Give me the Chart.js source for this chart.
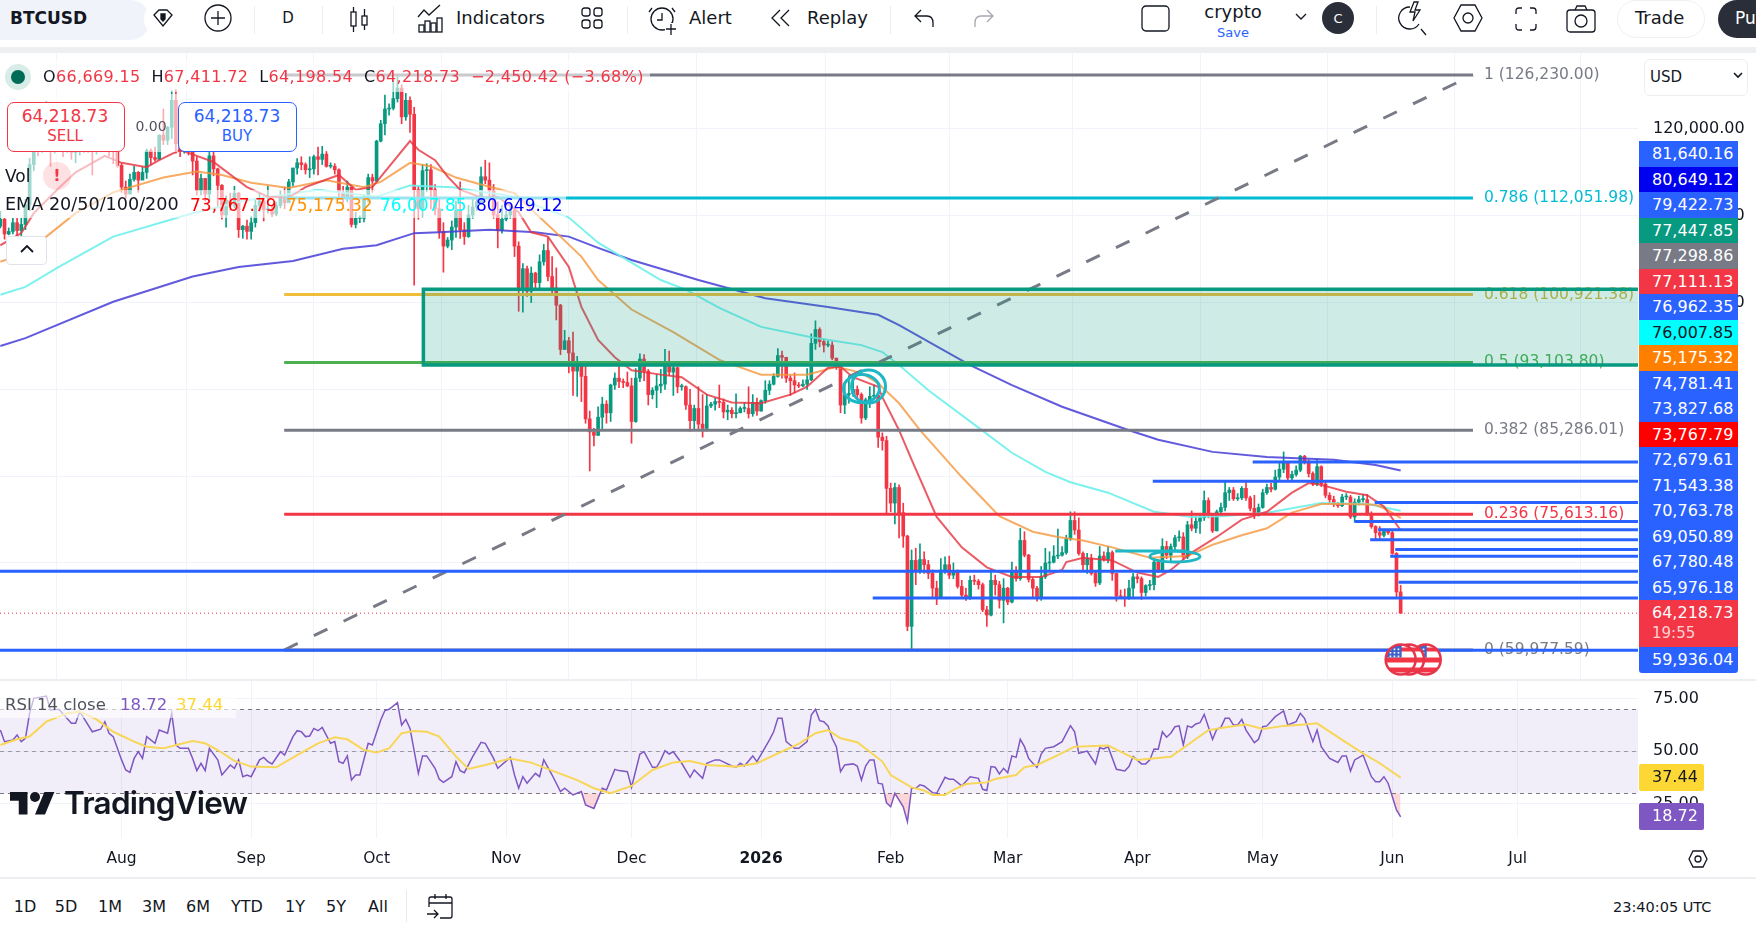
<!DOCTYPE html>
<html>
<head>
<meta charset="utf-8">
<title>BTCUSD</title>
<script src="https://cdn.jsdelivr.net/npm/chart.js@4"></script>
<style>
html,body{margin:0;padding:0;background:#fff;width:1756px;height:934px;overflow:hidden;font-family:"DejaVu Sans",sans-serif;color:#131722}
canvas{position:absolute;left:0}
.t{position:absolute;white-space:nowrap;line-height:1;transform:translateY(-50%)}
.c{transform:translate(-50%,-50%)}
.r{position:absolute}
.tag{position:absolute;left:1639px;width:99px;height:25.5px;line-height:25.5px;color:#fff;font-size:16px;text-align:left;padding-left:13px;box-sizing:border-box;font-weight:500}
svg{position:absolute;overflow:visible;fill:none;stroke:#131722;stroke-width:1.3}
</style>
</head>
<body>
<canvas id="priceCanvas" width="1756" height="630" style="top:50px"></canvas>
<canvas id="rsiCanvas" width="1756" height="197" style="top:680px"></canvas>
<div id="ui"></div>
<script>
// Daily BTCUSD candles, first value is day 2 counted from 1 Jul 2025
const firstDay = 2;
const closes = [
109600,107900,108200,109200,108300,109000,111300,115900,117500,117400,
119100,119800,117700,118700,119200,117900,117900,117300,117400,120000,
118700,118300,117600,117900,119400,118000,117900,117800,115800,113300,
112500,114200,115000,114100,115000,117500,116700,116500,119300,118700,
120200,123300,118300,117400,117500,117400,116300,112900,114300,112500,
116900,115400,113500,110100,111800,111200,112600,108400,108800,108200,
109200,111200,111700,110700,110700,110200,111200,112100,111500,113900,
115500,116100,115900,115300,115400,116800,116500,117100,115700,115700,
115300,112700,112000,113300,109000,109700,109700,112100,114400,114000,
118600,120600,122300,122400,123500,124700,121400,123300,121700,113000,
110800,115200,115300,113000,110800,108200,106500,107200,108700,110600,
108400,107600,110100,111000,111600,114500,114100,112900,110100,108300,
109600,110100,110600,106500,101600,103900,101300,103400,102300,104700,
106000,103000,101700,99700,94600,95600,94200,92100,92900,91500,
86600,85100,84700,86800,88300,87300,90500,91300,90900,90800,
90400,86300,91300,93500,92100,89400,89900,90400,90600,92700,
92000,92500,90300,90300,88200,86400,87800,86000,85500,88100,
88300,88600,88500,87400,87600,87200,87300,87800,87800,87200,
88500,87500,88700,89900,90600,91500,93900,93700,91300,91000,
90500,90400,90600,91100,95300,96900,95500,95100,95100,93600,
92600,88200,89400,89500,90000,89400,86700,88800,89200,89300,
84500,84100,78600,76900,78700,75800,73100,62700,70300,69200,
70400,69800,68800,67100,66100,69200,69800,68600,69100,67300,
66300,66000,68000,67900,67500,64600,64000,68000,67500,65700,
67100,65500,69000,68200,72600,70900,68100,67100,65900,68400,
70000,70100,70800,70900,71200,72800,74900,73800,71100,69800,
70500,68800,67700,70800,70400,71200,68800,66200,66100,65900,
67100,68400,68200,66600,67400,67500,70100,69100,71900,70900,
71900,72900,73000,70700,74400,74000,74800,75200,77200,75500,
73700,75900,76400,78100,78400,77400,77500,78600,77500,76300,
75500,76400,78100,78700,78500,79900,80800,81500,79800,80200,
80700,82300,81700,80300,79100,81100,79100,77800,77300,76800,
76600,77600,77600,75300,77000,77300,77300,75700,74200,73500,
73200,73800,73500,71100,66669.15,64218.73];
const highs = [
110500,109700,108600,109700,109700,109700,111900,116600,118900,118200,
119400,123200,120000,119200,120700,120900,118500,118900,119500,120200,
120100,119500,119500,118500,119800,119800,119200,118800,118100,116000,
114000,114800,115700,115100,115600,117700,117700,117900,119300,122300,
120300,124400,124500,119300,118000,118600,117600,116800,114800,114300,
117300,117400,115500,113600,112300,112600,113400,112700,108900,109500,
109900,112000,112600,112200,113400,111200,111600,112900,113300,114200,
115500,116600,116800,116100,116800,117000,117900,118000,117400,116100,
116000,115400,113400,114000,113300,110400,110000,112400,114800,114800,
118700,121000,123900,122900,125600,126230,125100,124100,123700,122500,
113400,115900,116000,115900,113600,111900,109200,107500,109400,111700,
113900,109200,111200,112000,111900,115600,116400,116100,113600,111600,
111200,110500,111100,110800,107000,104500,104200,104100,103500,105500,
106700,107500,105300,104000,99800,96800,96000,96600,93800,93200,
93000,87500,85500,88000,89100,88700,90600,91900,93000,91200,
92000,91300,92400,94100,94000,92300,90200,91700,92300,94600,
94400,92700,92600,90600,90400,90000,88200,90300,89400,89400,
88500,89000,90500,88900,88200,87900,89500,88000,88500,90300,
89400,89000,88800,91000,91000,91800,94700,94400,93600,91600,
91900,90800,91100,92400,96400,97900,97100,95800,95600,95500,
93600,92800,90700,91500,91000,90400,89600,89000,90300,90500,
89400,85000,84600,79200,79200,79000,76900,73200,71500,71700,
72200,71300,70300,69200,67900,70500,70700,70800,70000,69200,
68000,67100,68500,68600,68100,67700,65000,69200,68600,67900,
68200,67200,70100,69600,74000,73600,71000,68300,67300,69600,
71700,71300,72000,73900,71900,73200,75900,75900,75200,71300,
71100,71000,69000,71900,71300,71900,71400,68800,66900,67000,
68000,68800,68700,68400,67500,68000,70500,70400,72800,72500,
72200,73200,73700,73500,74800,76000,75400,75500,78300,77500,
75700,76100,76900,79300,78700,78700,78000,78800,79300,77700,
77800,76800,78500,79100,79200,80700,81500,82800,81600,80600,
81200,82400,82400,81900,80500,81900,81200,79300,78100,77700,
77000,77900,78000,77800,77400,77700,77900,77900,75900,74300,
74200,73900,73800,73800,71200,67411.72];
const lows = [
108600,107300,107800,107900,107500,107500,108400,110600,115200,116900,
117300,118900,115700,117200,117500,116800,117300,116500,116100,117000,
117300,117300,114700,117100,117800,117400,116900,116000,115600,112700,
112000,112600,114000,112700,114200,114300,115900,116300,116500,118200,
118200,118900,117200,116800,117200,117000,114700,112400,112400,111700,
111700,114600,110900,109600,108700,110600,110900,107500,107400,107300,
107300,108700,110500,109400,110300,109900,110000,110900,110800,111600,
113400,114800,115300,114800,114400,114800,114700,115900,115600,115500,
114800,111900,111500,111600,108700,108600,109200,109300,111600,112700,
113900,118500,119300,121600,122200,123100,120600,121000,119600,102000,
109600,109800,112800,110800,110100,107400,103500,106300,106100,107500,
107400,106700,107500,109700,110600,111300,113700,112000,109700,106300,
108000,109400,109700,105300,99000,98900,100700,100000,101500,101500,
104300,102500,100800,98000,94000,94600,91900,89300,89200,88600,
86100,80600,83500,84700,85300,86100,86300,90000,90200,90200,
90300,83800,86200,90900,91000,88200,88900,87900,89600,90000,
91600,89300,89600,89900,87700,85200,85300,85400,84500,85200,
87900,87600,87900,86700,86500,86700,86700,87300,87400,86700,
86900,87000,87500,88400,89400,90500,91400,91300,90800,89300,
89600,90200,90300,90000,91000,94600,94900,94300,94900,93400,
92300,87300,87200,88400,89200,89000,86100,86500,87900,88900,
83300,83000,75600,75900,74500,72900,71800,62200,60000,67500,
68800,68800,68200,66100,65200,65900,68800,68200,68200,67100,
65900,65700,65800,67500,67000,64400,62700,63900,66300,64800,
63100,65200,65400,67900,68000,70700,67800,66100,65600,65700,
68200,69100,70000,70500,70800,71000,72600,73300,70900,69000,
68800,68600,67300,67500,70200,70000,68000,65600,65900,65000,
65800,66000,67700,65800,66200,66900,66900,68900,68900,70500,
70200,71300,72500,70400,70500,73700,73500,73400,74900,75200,
73500,73700,75500,76000,77200,77200,77200,77300,77200,76000,
75100,75400,76300,77900,78200,78400,79500,80400,79400,79600,
80000,80500,81400,79900,78900,78900,78800,77500,76900,76500,
76400,76500,77300,75100,74700,76700,77000,75500,74000,72600,
72700,73000,73300,71000,66000,64198.54];
const firstOpen = 108800;
const opens = [firstOpen, ...closes.slice(0, -1)];

// Moving averages, day number next to the value at that day
const ema20Days = [2,7,10,16,20,27,31,37,40,45,49,53,61,66,71,75,83,87,91,100,102,106,109,112,117,121,126,129,133,138,141,145,149,153,160,165,171,177,184,191,195,200,203,206,212,213,217,220,226,232,238,244,251,256,257,261,268,274,279,282,287,293,299,305,311,315,318,324,329,333,337];
const ema20Values = [106600,108000,110300,113200,115000,116900,116100,115600,116400,117600,116900,116200,113300,112200,112100,113300,114700,113000,113300,118600,117600,116400,114500,113000,112100,112200,110400,108100,107600,104100,99500,95700,93700,92200,91700,91400,89400,88500,88400,89400,90300,92500,92600,91400,90300,89100,85300,81900,75300,71800,69500,68400,68400,69200,70100,70600,70300,68900,68400,69200,71200,73000,75000,75900,78100,79200,79000,78200,77800,76500,73767.79];
const ema50Days = [2,8,13,20,29,41,49,55,62,71,80,89,93,100,105,111,117,125,130,136,141,145,153,163,174,184,195,202,208,212,217,222,232,241,249,255,261,268,277,286,292,299,305,311,318,324,331,334,337];
const ema50Values = [104700,105700,107600,110300,112700,114400,115100,114700,113800,113200,114100,113300,113900,116100,115700,114400,113600,112600,110300,107600,105300,102600,99200,96600,93400,91700,91700,92600,91900,90700,88400,85300,79900,75400,73600,73000,72600,71800,70600,70800,72100,73200,74000,75800,76800,76800,76700,76100,75175.32];
const ema100Days = [2,8,16,29,48,61,78,92,100,110,118,125,129,138,145,160,166,174,184,196,208,213,217,224,236,244,252,258,267,278,287,295,305,318,329,337];
const ema100Values = [100900,101800,104100,107600,110300,111800,113000,112200,113500,113300,112700,112200,111400,109800,106900,102600,101500,99400,97200,96000,95100,94300,92800,89900,85600,82700,80500,79300,78100,75900,75300,75400,75800,76900,76800,76007.85];
const ema200Days = [2,8,29,48,59,72,84,92,101,107,119,130,138,145,153,169,185,200,212,217,234,244,256,272,279,292,305,321,331,337];
const ema200Values = [95000,95900,100100,103000,104100,104800,106200,106600,108000,108100,108400,108100,107600,106300,104900,102600,100500,99500,98600,97400,92800,90500,88000,85300,84200,82800,82200,81900,81300,80649.12];

// RSI(14) and its moving average
const rsiDays = [2,3,5,6,7,8,9,10,13,14,16,19,20,21,24,26,27,28,29,31,32,33,34,35,36,37,39,40,42,43,44,45,47,48,49,50,51,52,54,55,57,58,59,60,61,62,64,65,66,67,69,70,72,73,74,75,76,77,78,79,81,82,83,84,85,86,87,88,90,91,93,94,95,97,98,99,100,102,103,104,106,107,108,110,111,112,113,115,117,118,120,121,124,125,126,127,128,130,131,132,134,136,137,139,141,142,144,146,147,149,150,152,153,155,156,158,159,160,161,162,163,165,167,168,170,171,173,174,177,178,179,180,182,183,186,187,188,189,190,191,192,193,195,196,197,198,199,200,201,202,203,204,206,207,208,209,210,211,212,213,214,215,216,218,219,220,221,222,223,225,226,228,229,230,232,234,236,237,238,239,240,241,242,243,244,245,246,247,248,249,250,251,252,254,256,258,259,260,262,264,265,266,267,269,271,272,273,275,276,277,278,279,280,281,282,283,284,285,286,287,288,289,290,292,293,294,295,296,297,298,299,300,302,303,304,305,307,309,310,312,313,314,316,317,318,320,322,323,324,325,326,328,330,331,332,333,334,336,337];
const rsiValues = [60.1,54.6,55.4,57.8,54.6,56.2,68.1,75.2,76.3,69.7,70,63.3,63.3,68.9,59.3,60.5,64.1,58.6,57,45.9,41.1,40,46.6,49.8,46.6,57,53.8,60.1,58.6,68.1,53,51.4,51.4,46.6,40.8,44.3,40.8,51.4,45.9,38.7,43.5,41.9,45.9,37.9,38.7,37.9,45.9,47.1,45.1,44,49.8,48.2,57,59.8,59.3,57,57.3,60.9,59.8,61.4,53.8,54.6,45.1,44.3,47.8,36.3,38.7,38.7,53.8,53,64.9,69.4,70,73.2,62.5,65.2,60.9,39.5,47.8,47.8,41.9,36.7,35.2,37.9,45.1,40.8,39.8,47.5,54.3,53.8,46.6,41.9,47.1,38.7,32.4,37.9,34.8,39.5,37.9,45.9,38.7,30.8,32.4,29.2,30.8,24.4,22.8,32.4,31.6,41.4,40.8,40.3,32.9,48.7,49.8,42.4,42.4,45.9,50.3,48.7,49.8,44.3,37.6,41.1,37.1,44.3,45.9,45.9,43,42.4,44.3,43,47.8,45.1,55.4,59.3,65.7,65.7,54.6,53,51.4,51.4,54.6,67.3,70,64.6,64.1,62.1,56.2,52.2,40.3,43.5,44,43,36.3,43,45.9,45.9,34.8,34.4,25.5,23.6,30,23.6,16.5,32.4,32.4,34,33.5,30.3,30,37.6,36.7,36.7,33.5,37.9,37.1,31.9,31.3,42.7,42.4,39.2,41.9,39.8,47.8,47.1,55.7,52.2,46.6,44.3,42.4,48.7,51.4,52.2,54.6,62.2,59.3,49,50.1,44,51.7,51.1,52.2,41.4,40.6,42.7,47.5,44,44,45.9,51.1,51,59.3,56.7,58.6,61.7,62.1,53,62.1,61.4,63,63.6,67.6,55.7,60.5,61.4,65.7,65.7,62.5,62.5,65.2,60.1,54.1,55.7,61.7,62.1,66.5,69.2,62.5,64.1,68.1,65.7,54.6,60.1,52.2,46.6,44.7,47.8,47.8,40.6,45.9,48.2,37.9,35.5,35.5,37.9,34.8,22.1,18.72];
const rsiMaDays = [2,6,9,13,18,21,25,29,34,37,41,45,48,51,54,58,62,68,73,78,82,85,89,92,95,98,101,104,107,111,114,118,124,129,134,140,144,148,153,158,163,167,171,178,183,188,193,197,200,203,207,210,213,215,220,223,225,228,230,233,238,240,245,247,250,255,259,267,270,274,282,286,291,296,300,304,309,314,317,323,328,332,337];
const rsiMaValues = [53,55.7,57,64.1,68.1,68.9,65.2,59.3,54.6,52.2,51.4,53.5,54.9,53.8,50.6,45.4,42.7,42.4,48.2,53.8,56.7,55.7,50.6,49.4,51.4,58.6,59.7,59.3,57,47.5,41.6,43.5,46.6,44.6,40.8,36.3,32.4,30,33.5,41.1,44.7,45.4,43.5,42.7,44.3,49,53.5,58.6,60.1,56.2,54.3,49.8,45.1,38.7,32.8,31.3,29.2,29.2,31.6,34.4,35.2,36.8,38.7,42.4,43.5,48.2,52.2,52.7,49.8,45.9,47.4,53,60.1,61.7,62.8,60.6,62.1,62.8,63.3,55.4,49,44.3,37.44];
const rsiTickValues = [25,50,75];
const priceTickValues = [60000,70000,80000,90000,100000,110000,120000];

// Month ticks on the time axis
const monthDays = [31,62,92,123,153,184,215,243,274,304,335,365];
const monthLabels = ['Aug','Sep','Oct','Nov','Dec','2026','Feb','Mar','Apr','May','Jun','Jul'];

// Fibonacci retracement anchored on the 59,977.59 low and the 126,230.00 high
const fibRatios = ['1','0.786','0.618','0.5','0.382','0.236','0'];
const fibPrices = [126230.00,112051.98,100921.38,93103.80,85286.01,75613.16,59977.59];
const fibColors = ['#787b86','#00bcd4','#f0bd3c','#4caf50','#787b86','#f23645','#787b86'];
const fibFromDay = 69.9, fibToDay = 354.3;

// Horizontal levels: price and the day each one starts on
const levelPrices = [81640.16,79422.73,76962.35,74781.41,73827.68,72679.61,71543.38,70763.78,69050.89,67780.48,65976.18,59936.04];
const levelStartDays = [301.6,277.7,330.8,326,331.6,329.7,335.7,334.5,1.9,336.5,210.7,1.9];

// Supply zone and the circled spots
const zoneDayFrom = 103.2, zoneTop = 101540, zoneBottom = 92800;
const ringDays = [209.7,208], ringPrices = [90320,90090];
const channelDay = 283, channelPrice = 70750;
const tealBarDays = [268.7,285.9], tealBarPrice = 71380;
const eventDays = [337,339,343];
const lastPrice = 64218.73;

const dayStart = 1.914, dayEnd = 393.78;
const priceMin = 56521, priceMax = 129097;
const rsiMin = 8.71, rsiMax = 83.95;
const UP = '#089981', DOWN = '#f23645', BLUE = '#2962ff', TEAL = '#1fb6c6';

const days = closes.map((_, i) => firstDay + i);
const money = v => v.toLocaleString('en-US', {minimumFractionDigits: 2, maximumFractionDigits: 2});
const pairs = (xs, ys) => xs.map((x, i) => ({x, y: ys[i]}));

const segment = (ctx, x0, y0, x1, y1, color, width, dash) => {
  ctx.save();
  ctx.strokeStyle = color; ctx.lineWidth = width; ctx.setLineDash(dash || []);
  ctx.beginPath(); ctx.moveTo(x0, y0); ctx.lineTo(x1, y1); ctx.stroke();
  ctx.restore();
};

// Drawing tools placed on top of the price series
const drawingTools = {
  id: 'drawingTools',
  beforeDatasetsDraw(chart) {
    const {ctx, scales: {x, y}, chartArea: a} = chart;
    const py = y.getPixelForValue(lastPrice);
    segment(ctx, a.left, py, a.right, py, '#f23645', 1, [1, 3]);
  },
  afterDatasetsDraw(chart) {
    const {ctx, scales: {x, y}, chartArea: a} = chart;
    const fx0 = x.getPixelForValue(fibFromDay), fx1 = x.getPixelForValue(fibToDay);
    fibPrices.forEach((p, i) => {
      const py = y.getPixelForValue(p);
      segment(ctx, fx0, py, fx1, py, fibColors[i], 3);
    });
    segment(ctx, fx0, y.getPixelForValue(fibPrices[6]), fx1, y.getPixelForValue(fibPrices[0]), '#787b86', 3, [15, 18]);
    ctx.save();
    ctx.font = '15.5px "DejaVu Sans"';
    ctx.textBaseline = 'middle';
    fibPrices.forEach((p, i) => {
      ctx.fillStyle = fibColors[i] === '#f0bd3c' ? '#d3b33c' : fibColors[i];
      ctx.fillText(fibRatios[i] + ' (' + money(p) + ')', fx1 + 11, y.getPixelForValue(p));
    });
    ctx.restore();

    // zone rectangle runs to the edge of the plot
    const zx = x.getPixelForValue(zoneDayFrom), zt = y.getPixelForValue(zoneTop), zb = y.getPixelForValue(zoneBottom);
    ctx.save();
    ctx.fillStyle = 'rgba(8,153,129,0.2)';
    ctx.fillRect(zx, zt, a.right - zx, zb - zt);
    ctx.strokeStyle = UP; ctx.lineWidth = 3.5;
    ctx.beginPath(); ctx.moveTo(a.right, zt); ctx.lineTo(zx, zt); ctx.lineTo(zx, zb); ctx.lineTo(a.right, zb); ctx.stroke();
    ctx.restore();

    levelPrices.forEach((p, i) => {
      const py = y.getPixelForValue(p);
      segment(ctx, x.getPixelForValue(levelStartDays[i]), py, a.right, py, BLUE, 3);
    });

    ctx.save();
    ctx.strokeStyle = TEAL; ctx.lineWidth = 3;
    [[17, 16.5], [18, 14]].forEach(([rx, ry], i) => {
      ctx.beginPath();
      ctx.ellipse(x.getPixelForValue(ringDays[i]), y.getPixelForValue(ringPrices[i]), rx, ry, 0, 0, Math.PI * 2);
      ctx.stroke();
    });
    ctx.beginPath();
    ctx.ellipse(x.getPixelForValue(channelDay), y.getPixelForValue(channelPrice), 25, 5.5, 0, 0, Math.PI * 2);
    ctx.stroke();
    ctx.restore();
    const by = y.getPixelForValue(tealBarPrice);
    segment(ctx, x.getPixelForValue(tealBarDays[0]), by, x.getPixelForValue(tealBarDays[1]), by, TEAL, 3);

    // economic event markers under the last candles
    [...eventDays].reverse().forEach(d => {
      const cx = x.getPixelForValue(d), cy = y.getPixelForValue(fibPrices[6]) + 9.5, r = 15;
      ctx.save();
      ctx.beginPath(); ctx.arc(cx, cy, r, 0, Math.PI * 2);
      ctx.fillStyle = '#fff'; ctx.fill();
      ctx.clip();
      ctx.fillStyle = '#f23645';
      ctx.fillRect(cx - r, cy - 2, 2 * r, 5);
      ctx.fillRect(cx - r, cy + 8, 2 * r, 5);
      ctx.fillRect(cx, cy - 12, r, 4);
      ctx.fillStyle = '#3f63c8';
      ctx.fillRect(cx - r, cy - r, r + 1, r - 2);
      ctx.fillStyle = '#fff';
      for (let i = 0; i < 3; i++) for (let j = 0; j < 3; j++) ctx.fillRect(cx - 11 + j * 4, cy - 11 + i * 3.5, 1.6, 1.6);
      ctx.restore();
      ctx.beginPath(); ctx.arc(cx, cy, r, 0, Math.PI * 2);
      ctx.strokeStyle = '#e5354a'; ctx.lineWidth = 2.5; ctx.stroke();
    });
  }
};

const gridColor = '#f0f3fa';
const monthTicks = axis => { axis.ticks = monthDays.map(value => ({value})); };
// right-hand axes: fixed width, no extra room above or below the plot
const fitRightAxis = s => { s.width = 118; s.paddingTop = 0; s.paddingBottom = 0; };

new Chart(document.getElementById('priceCanvas'), {
  type: 'bar',
  plugins: [drawingTools],
  data: {
    datasets: [
      {type: 'line', data: pairs(ema20Days, ema20Values), borderColor: 'rgba(230,50,62,0.8)', borderWidth: 2, pointRadius: 0, order: 1},
      {type: 'line', data: pairs(ema50Days, ema50Values), borderColor: 'rgba(245,150,60,0.8)', borderWidth: 2, pointRadius: 0, order: 2},
      {type: 'line', data: pairs(ema100Days, ema100Values), borderColor: 'rgba(110,240,235,0.9)', borderWidth: 2, pointRadius: 0, order: 3},
      {type: 'line', data: pairs(ema200Days, ema200Values), borderColor: 'rgba(70,60,215,0.85)', borderWidth: 2, pointRadius: 0, order: 4},
      {data: days.map((d, i) => ({x: d, y: [opens[i], closes[i]]})),
       backgroundColor: closes.map((c, i) => c >= opens[i] ? UP : DOWN), barThickness: 3, minBarLength: 1, grouped: false, order: 10},
      {data: days.map((d, i) => ({x: d, y: [lows[i], highs[i]]})),
       backgroundColor: closes.map((c, i) => c >= opens[i] ? UP : DOWN), barThickness: 1, grouped: false, order: 11}
    ]
  },
  options: {
    responsive: false, animation: false, devicePixelRatio: 1,
    layout: {padding: 0},
    plugins: {legend: {display: false}, tooltip: {enabled: false}},
    scales: {
      x: {type: 'linear', min: dayStart, max: dayEnd, offset: false, afterBuildTicks: monthTicks,
          afterFit: s => { s.height = 0; },
          ticks: {display: false}, grid: {color: gridColor, drawTicks: false}, border: {display: false}},
      y: {position: 'right', min: priceMin, max: priceMax, afterFit: fitRightAxis,
          afterBuildTicks: axis => { axis.ticks = priceTickValues.map(value => ({value})); },
          ticks: {padding: 15, color: '#131722', font: {family: '"DejaVu Sans"', size: 16}, callback: v => money(v)},
          grid: {color: gridColor, drawTicks: false}, border: {display: false}}
    }
  }
});

// RSI band and its 70 / 50 / 30 guides
const rsiBand = {
  id: 'rsiBand',
  beforeDatasetsDraw(chart) {
    const {ctx, scales: {y}, chartArea: a} = chart;
    ctx.fillStyle = 'rgba(126,87,194,0.1)';
    ctx.fillRect(a.left, y.getPixelForValue(70), a.right - a.left, y.getPixelForValue(30) - y.getPixelForValue(70));
    [70, 50, 30].forEach(v => {
      const py = Math.round(y.getPixelForValue(v)) + 0.5;
      segment(ctx, a.left, py, a.right, py, v === 50 ? 'rgba(120,123,134,0.7)' : '#787b86', 1, [4, 4]);
    });
  }
};

new Chart(document.getElementById('rsiCanvas'), {
  type: 'line',
  plugins: [rsiBand],
  data: {
    datasets: [
      {data: pairs(rsiDays, rsiValues), borderColor: '#7e57c2', borderWidth: 1.5, pointRadius: 0, order: 2,
       fill: {target: {value: 30}, below: 'rgba(242,54,69,0.2)', above: 'rgba(0,0,0,0)'}},
      {data: pairs(rsiMaDays, rsiMaValues), borderColor: '#f7d658', borderWidth: 2, pointRadius: 0, order: 1}
    ]
  },
  options: {
    responsive: false, animation: false, devicePixelRatio: 1,
    layout: {padding: 0},
    plugins: {legend: {display: false}, tooltip: {enabled: false}},
    scales: {
      x: {type: 'linear', min: dayStart, max: dayEnd, offset: false, afterBuildTicks: monthTicks,
          afterFit: s => { s.height = 39; },
          ticks: {autoSkip: false, maxRotation: 0, padding: 12, color: '#131722',
                  font: ctx => ({family: '"DejaVu Sans"', size: 15.5, weight: ctx.tick && ctx.tick.value === 184 ? '700' : '400'}),
                  callback: v => monthLabels[monthDays.indexOf(v)]},
          grid: {color: gridColor, drawTicks: false}, border: {display: false}},
      y: {position: 'right', min: rsiMin, max: rsiMax, afterFit: fitRightAxis,
          afterBuildTicks: axis => { axis.ticks = rsiTickValues.map(value => ({value})); },
          ticks: {padding: 15, color: '#131722', font: {family: '"DejaVu Sans"', size: 16}, callback: v => v.toFixed(2)},
          grid: {color: gridColor, drawTicks: false}, border: {display: false}}
    }
  }
});

// Interface around the chart
const priceTags = [
  ['81,640.16', BLUE], ['80,649.12', '#0000f0'], ['79,422.73', BLUE], ['77,447.85', UP],
  ['77,298.86', '#787b86'], ['77,111.13', DOWN], ['76,962.35', BLUE], ['76,007.85', '#00ffff', '#131722'],
  ['75,175.32', '#ff7f00'], ['74,781.41', BLUE], ['73,827.68', BLUE], ['73,767.79', '#ff0000'],
  ['72,679.61', BLUE], ['71,543.38', BLUE], ['70,763.78', BLUE], ['69,050.89', BLUE],
  ['67,780.48', BLUE], ['65,976.18', BLUE]];
const toolbarTexts = [['Indicators', 456, 18], ['Alert', 689, 18], ['Replay', 807, 18], ['Trade', 1635, 18]];
const rangeTexts = [['1D', 25], ['5D', 66], ['1M', 110], ['3M', 154], ['6M', 198], ['YTD', 247], ['1Y', 295], ['5Y', 336], ['All', 378]];

let html = '';
const box = (x, y, w, h, css) => `<div class="r" style="left:${x}px;top:${y}px;width:${w}px;height:${h}px;${css}"></div>`;
const text = (s, x, y, size, css, centered) => `<div class="t${centered ? ' c' : ''}" style="left:${x}px;top:${y}px;font-size:${size}px;${css || ''}">${s}</div>`;

// top and bottom bars
html += box(0, 0, 1756, 47, 'background:#fff');
html += box(0, 47, 1756, 6, 'background:#eeeff1');
html += box(0, 0, 150, 40, 'background:#f0f3fa;border-radius:0 20px 20px 0');
html += box(144, 0, 38, 38, 'background:#fff;border-radius:19px');
html += text('BTCUSD', 10, 18, 17, 'font-weight:600');
html += text('D', 288, 18, 15, '', true);
[254, 322, 393, 627, 890, 1376].forEach(x => { html += box(x, 6, 1, 28, 'background:#eceef2'); });
toolbarTexts.forEach(([s, x, y]) => { html += text(s, x, y, 18); });
html += text('crypto', 1233, 12, 18, '', true);
html += text('Save', 1233, 32, 13, 'color:#2962ff', true);
html += box(1338 - 16, 2, 32, 32, 'background:#2a2e39;border-radius:16px');
html += text('C', 1338, 18, 13, 'color:#fff', true);
html += box(1617, 0, 88, 38, 'border:1px solid #eef0f3;border-radius:20px;box-sizing:border-box');
html += box(1718, 0, 60, 38, 'background:#2a2e39;border-radius:19px 0 0 19px');
html += text('Pu', 1735, 18, 17, 'color:#fff');
html += box(0, 679, 1756, 2, 'background:#eceef2');
html += box(0, 877, 1756, 2, 'background:#eceef2');
rangeTexts.forEach(([s, x]) => { html += text(s, x, 907, 16, '', true); });
html += box(406, 890, 1, 32, 'background:#e6e8ee');
html += text('23:40:05 UTC', 1613, 907, 14.5);
html += text('Jul', -18, 858, 15.5);

// translucent strips behind the legends
html += box(0, 60, 650, 32, 'background:rgba(255,255,255,.6)');
html += box(0, 94, 178, 58, 'background:rgba(255,255,255,.6)');
html += box(0, 152, 118, 38, 'background:rgba(255,255,255,.6)');
html += box(0, 190, 566, 28, 'background:rgba(255,255,255,.6)');
html += box(0, 692, 236, 26, 'background:rgba(255,255,255,.6)');

// legend rows
html += box(5, 64, 26, 26, 'background:#d8ece8;border-radius:13px');
html += box(11, 70, 14, 14, 'background:#006b56;border-radius:7px');
const red = 'color:#f23645;';
html += `<div class="t" style="left:43px;top:77px;font-size:16px;letter-spacing:.35px">O<span style="${red}">66,669.15</span> &nbsp;H<span style="${red}">67,411.72</span> &nbsp;L<span style="${red}">64,198.54</span> &nbsp;C<span style="${red}">64,218.73</span> <span style="${red}">&nbsp;−2,450.42 (−3.68%)</span></div>`;
html += box(6.5, 101.5, 118, 50, `background:#fff;border:1px solid ${DOWN};border-radius:7px;box-sizing:border-box`);
html += text('64,218.73', 65, 116, 17, red + 'font-weight:500', true);
html += text('SELL', 65, 136, 15, red, true);
html += box(178, 101.5, 119, 50, `background:#fff;border:1px solid ${BLUE};border-radius:7px;box-sizing:border-box`);
html += text('64,218.73', 237, 116, 17, 'color:#2962ff;font-weight:500', true);
html += text('BUY', 237, 136, 15, 'color:#2962ff', true);
html += text('0.00', 151, 126, 14, 'color:#50535e', true);
html += text('Vol', 5, 176, 17);
html += box(43, 162, 28, 28, 'background:rgba(242,54,69,.15);border-radius:14px');
html += text('!', 57, 176, 16, 'color:#f23645;font-weight:700', true);
html += text('EMA 20/50/100/200', 5, 205, 17.6);
html += text('73,767.79', 190, 205, 17, 'color:#ff0000');
html += text('75,175.32', 286, 205, 17, 'color:#ff9100');
html += text('76,007.85', 380, 205, 17, 'color:#00ffff');
html += text('80,649.12', 476, 205, 17, 'color:#0000ff');
html += box(6, 236, 41, 29, 'background:#fff;border:1px solid #e0e3eb;border-radius:4px;box-sizing:border-box');
html += text('RSI 14 close', 5, 705, 16.5, 'color:#50535e');
html += text('18.72', 120, 705, 16.5, 'color:#7e57c2');
html += text('37.44', 176, 705, 16.5, 'color:#fdd835');

// price scale tags
let tagTop = 141;
priceTags.forEach(([s, bg, fg]) => {
  html += `<div class="tag" style="top:${tagTop}px;background:${bg};${fg ? 'color:' + fg : ''}">${s}</div>`;
  tagTop += 25.5;
});
html += box(1639, 600, 99, 47, `background:${DOWN}`);
html += text('64,218.73', 1652, 613, 16, 'color:#fff;font-weight:500');
html += text('19:55', 1652, 633, 15, 'color:#ffd0d4');
html += `<div class="tag" style="top:647px;background:${BLUE};border-radius:0 0 3px 3px">59,936.04</div>`;
html += box(1639, 764, 65, 26.5, 'background:#fdd835;border-radius:2px');
html += text('37.44', 1652, 777, 16);
html += box(1639, 803, 65, 26.5, 'background:#7e57c2;border-radius:2px');
html += text('18.72', 1652, 816, 16, 'color:#fff');
html += box(1644, 59, 104, 37, 'border:1px solid #eceef2;border-radius:6px;box-sizing:border-box;background:#fff');
html += text('USD', 1650, 77, 15);

// watermark
html += `<svg style="left:10px;top:792px" width="45" height="22.5" viewBox="0 4 36 18"><path style="stroke:none;fill:#131722" d="M14 22H7V11H0V4h14v18zM28 22h-8l7.5-18h8L28 22z"/><circle style="stroke:none;fill:#131722" cx="20" cy="8" r="4"/></svg>`;
html += text('TradingView', 64, 803, 31.5, 'font-family:Inter,sans-serif;font-weight:600;letter-spacing:-.8px');

// toolbar icons
const icon = (x, y, w, h, body) => `<svg style="left:${x}px;top:${y}px" width="${w}" height="${h}" viewBox="0 0 ${w} ${h}">${body}</svg>`;
html += icon(150, 6, 26, 26, '<path d="M4 9l5-5h8l5 5-9 11z"/><path style="fill:#131722" d="M11 8h4v5l-2 2-2-2z"/>');
html += icon(204, 4, 28, 28, '<circle cx="14" cy="14" r="13"/><path d="M14 7v14M7 14h14"/>');
html += icon(349, 4, 20, 30, '<rect x="2" y="8" width="5" height="14"/><path d="M4.5 3v5M4.5 22v6"/><rect x="13" y="12" width="5" height="9"/><path d="M15.5 5v7M15.5 21v5"/>');
html += icon(416, 4, 28, 30, '<path d="M2 13l6-7 5 5 11-10"/><rect x="3" y="21" width="5" height="7"/><rect x="9" y="17" width="5" height="11"/><rect x="15" y="19" width="5" height="9"/><rect x="21" y="14" width="5" height="14"/>');
html += icon(580, 6, 24, 24, '<rect x="2" y="2" width="8" height="8" rx="2.5"/><rect x="14" y="2" width="8" height="8" rx="2.5"/><rect x="2" y="14" width="8" height="8" rx="2.5"/><rect x="14" y="14" width="8" height="8" rx="2.5"/>');
html += icon(647, 3, 32, 32, '<circle cx="15" cy="16" r="11"/><path d="M15 10v7h-5M5 5L2 9M25 5l3 4M21 23h8M25 19v11" /><rect x="18" y="20" width="14" height="12" style="fill:#fff;stroke:none"/><path d="M19 26h10M24 21v11"/>');
html += icon(770, 8, 22, 20, '<path d="M10 2L2 10l8 8M19 2l-8 8 8 8"/>');
html += icon(912, 8, 26, 22, '<path d="M9 2L3 8l6 6M3 8h12q6 0 6 7v4"/>');
html += icon(970, 8, 26, 22, '<path style="stroke:#a5a8b0" d="M17 2l6 6-6 6M23 8H11q-6 0-6 7v4"/>');
html += icon(1141, 5, 28, 26, '<rect x="1" y="1" width="27" height="25" rx="4"/>');
html += icon(1294, 12, 14, 10, '<path d="M2 2l5 5 5-5"/>');
html += icon(1397, 0, 30, 36, '<path d="M13 7a11 11 0 1 0 9 17M24 29l5 6M17 2l-4 10h5l-2 9 7-11h-5l3-8z"/>');
html += icon(1453, 2, 30, 32, '<path d="M8 3h14l7 13-7 13H8L1 16z"/><circle cx="15" cy="16" r="5"/>');
html += icon(1514, 6, 24, 26, '<path d="M8 2H5q-3 0-3 3v3M16 2h3q3 0 3 3v3M8 24H5q-3 0-3-3v-3M16 24h3q3 0 3-3v-3"/>');
html += icon(1566, 5, 30, 28, '<rect x="1" y="5" width="28" height="22" rx="3"/><path d="M9 5l2-4h8l2 4"/><circle cx="15" cy="16" r="6"/>');
html += icon(440 - 14, 893, 28, 28, '<rect x="3" y="4" width="23" height="21" rx="2"/><path d="M3 10h23M9 1v5M20 1v5"/><rect x="0" y="14" width="14" height="14" style="fill:#fff;stroke:none"/><path d="M1 21h11M8 17l4 4-4 4"/>');
html += icon(1688, 849, 20, 20, '<path d="M5 2h10l4 8-4 8H5l-4-8z"/><circle cx="10" cy="10" r="3"/>');
html += icon(1732, 72, 12, 8, '<path style="stroke-width:1.6" d="M2 1l4 4 4-4"/>');
html += icon(20, 244, 14, 10, '<path style="stroke-width:1.8" d="M1 8l6-6 6 6"/>');
document.getElementById('ui').innerHTML = html;
</script>
</body>
</html>
